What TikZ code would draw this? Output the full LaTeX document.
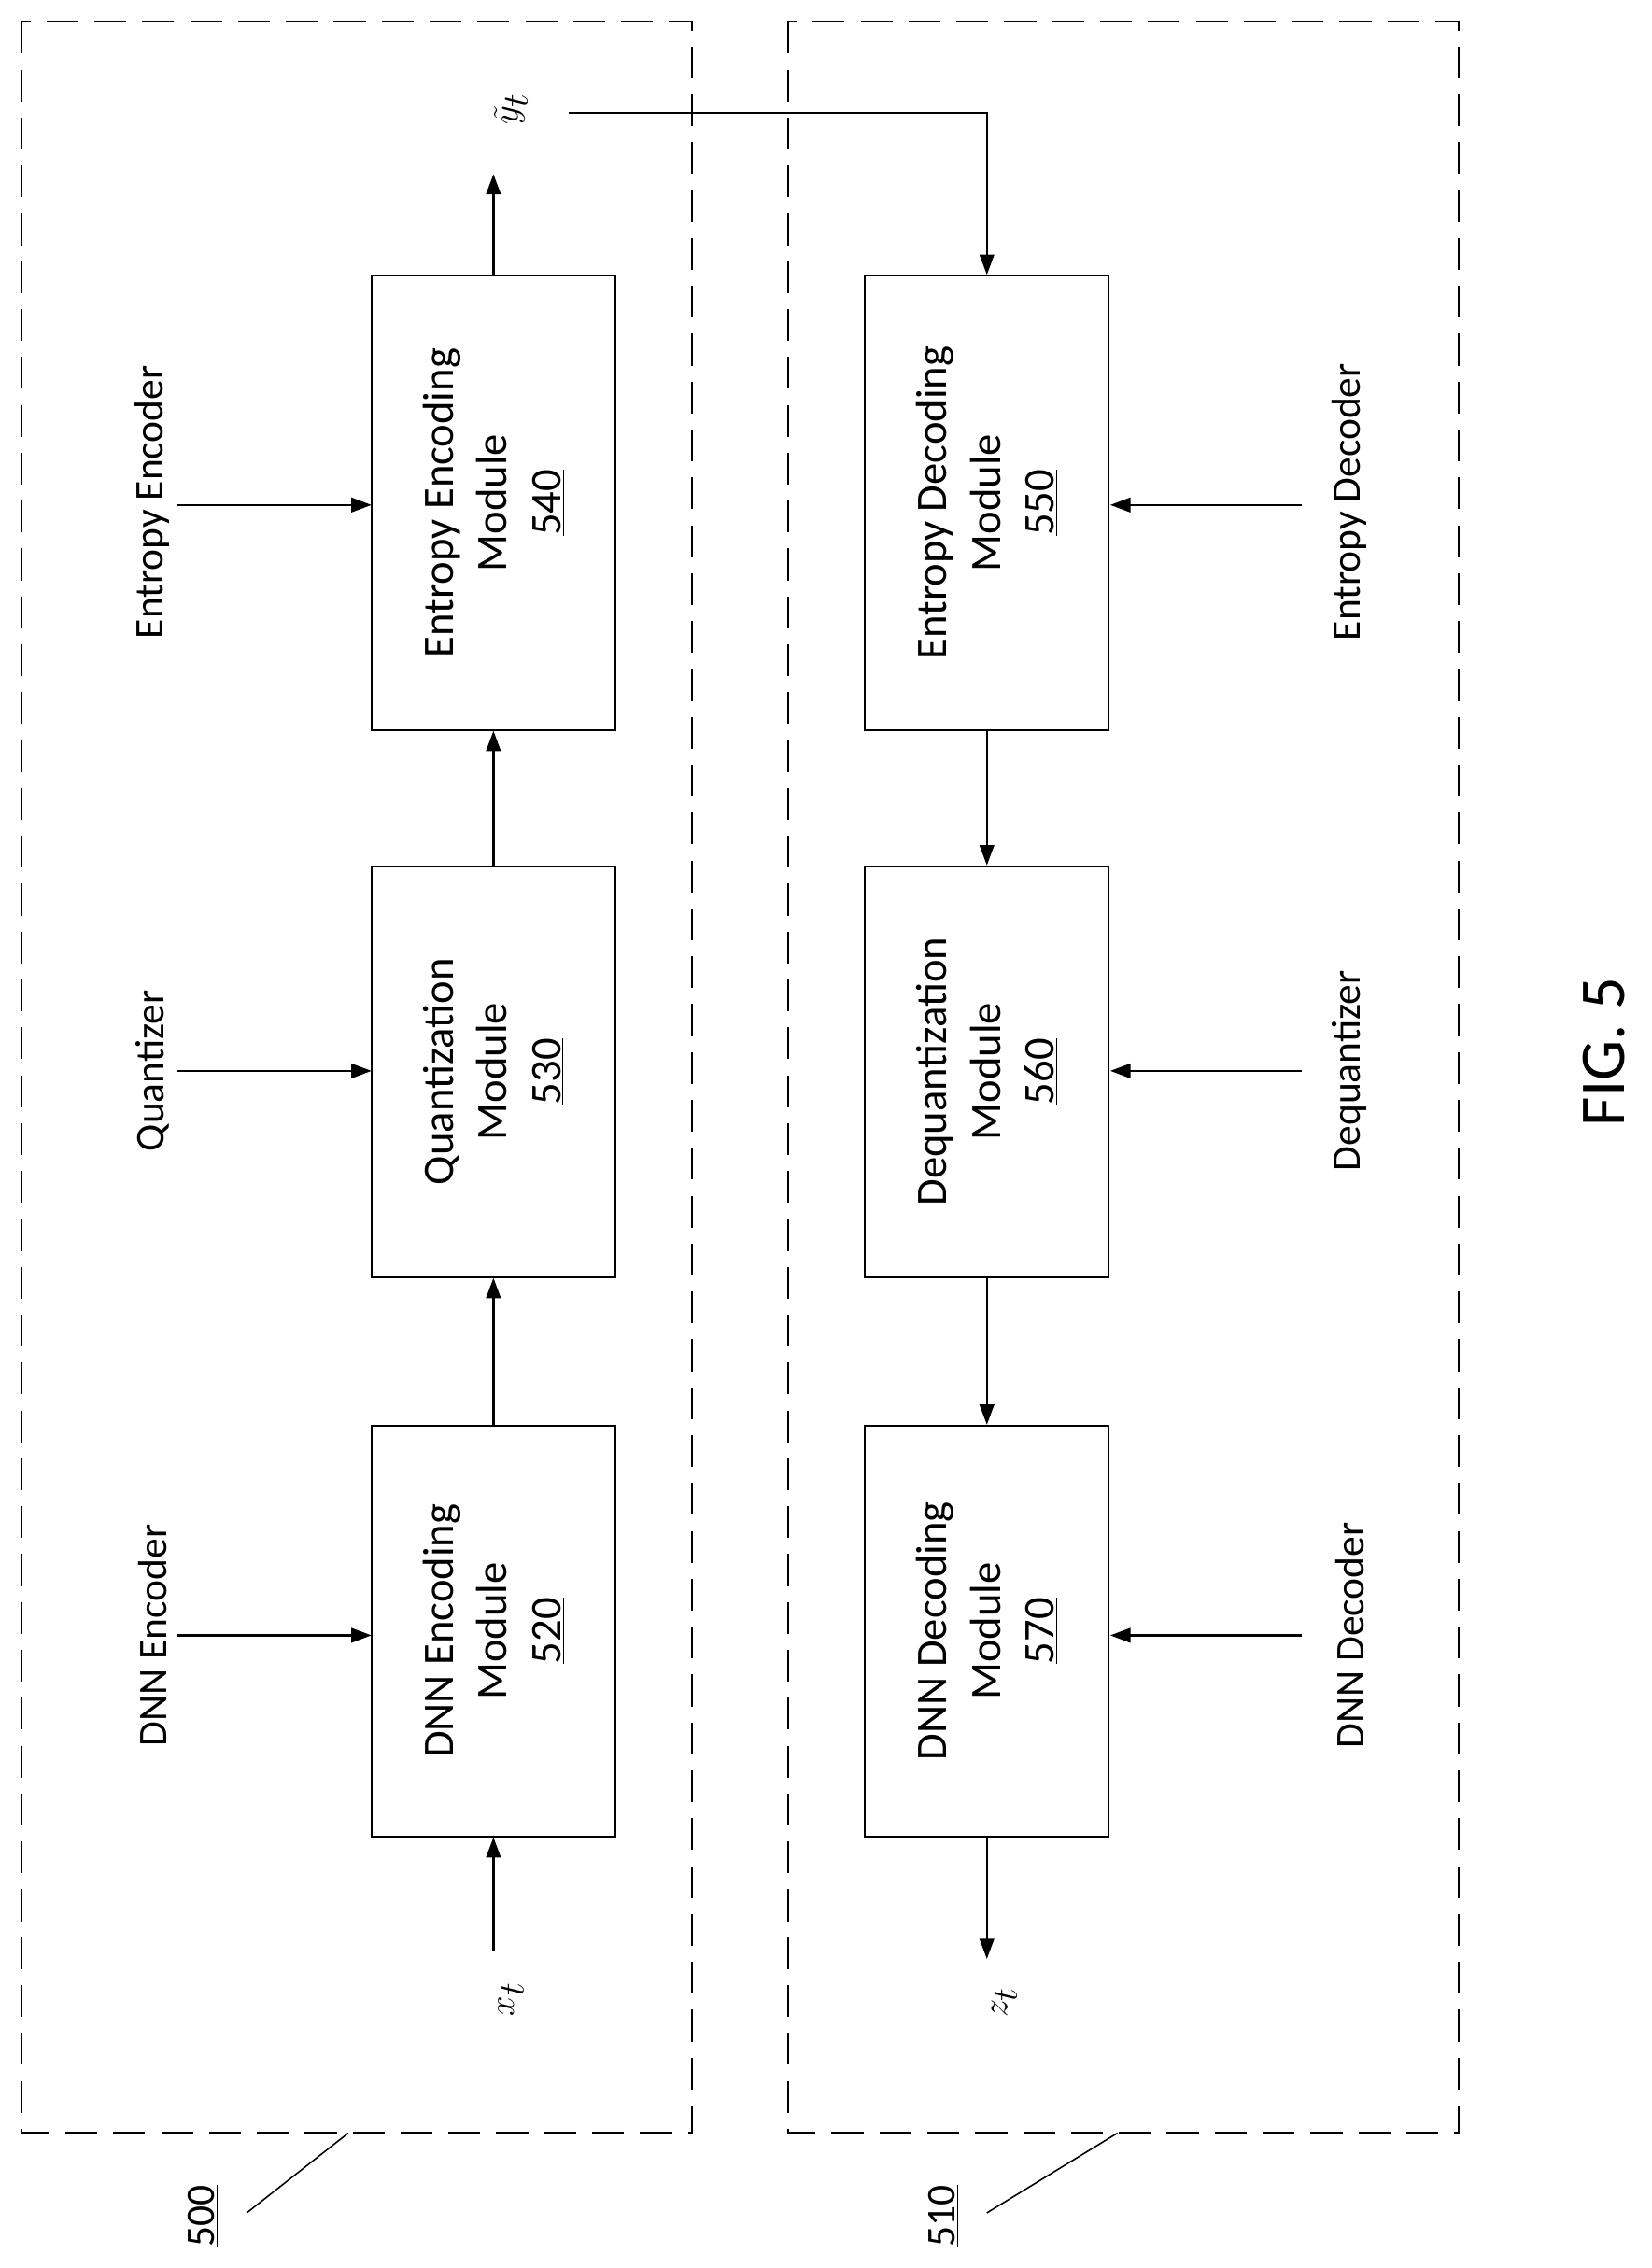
\documentclass[tikz,border=0pt]{standalone}
\usepackage{fontspec}
\setmainfont{Carlito}
\usetikzlibrary{arrows.meta}
\begin{document}
\begin{tikzpicture}[x=1pt,y=-1pt,
  box/.style={draw,line width=1.3pt,minimum width=283pt,minimum height=168pt,rotate=90,align=center,font=\fontsize{30}{37}\selectfont},
  lbl/.style={rotate=90,font=\fontsize{28}{34}\selectfont},
  dashbox/.style={draw,line width=1.3pt,dash pattern=on 22pt off 11pt},
  arr/.style={line width=1.6pt,-{Triangle[length=14pt,width=10pt]}},
  ln/.style={line width=1pt}]
\useasboundingbox (0,0) rectangle (1138,1563);
\draw[dashbox] (15,15) rectangle (477,1470);
\draw[dashbox] (543,15) rectangle (1005,1470);
\node[box,minimum width=313pt] (b540) at (340,346.5) {Entropy Encoding\\Module\\\underline{540}};
\node[box] (b530) at (340,738.5) {Quantization\\Module\\\underline{530}};
\node[box] (b520) at (340,1124) {DNN Encoding\\Module\\\underline{520}};
\node[box,minimum width=313pt] (b550) at (680,346.5) {Entropy Decoding\\Module\\\underline{550}};
\node[box] (b560) at (680,738.5) {Dequantization\\Module\\\underline{560}};
\node[box] (b570) at (680,1124) {DNN Decoding\\Module\\\underline{570}};
\node[lbl] (lee) at (105,346) {Entropy Encoder};
\node[lbl] (lq) at (105,738) {Quantizer};
\node[lbl] (lde) at (105,1127) {DNN Encoder};
\node[lbl] (led) at (930,346) {Entropy Decoder};
\node[lbl] (ldq) at (930,738) {Dequantizer};
\node[lbl] (ldd) at (930,1127) {DNN Decoder};
\node[rotate=90,font=\fontsize{34}{40}\selectfont] (x) at (352,1378) {$x_t$};
\node[rotate=90,font=\fontsize{34}{40}\selectfont] (y) at (352,75) {$\tilde{y}_t$};
\node[rotate=90,font=\fontsize{34}{40}\selectfont] (z) at (692,1380) {$z_t$};
\node[rotate=90,font=\fontsize{44}{50}\selectfont] (fig) at (1105,725) {FIG. 5};
\node[rotate=90,font=\fontsize{28}{34}\selectfont] (n500) at (140,1527) {\underline{500}};
\node[rotate=90,font=\fontsize{28}{34}\selectfont] (n510) at (650,1527) {\underline{510}};
\coordinate (xs) at (340,1345);
\coordinate (yt) at (340,120);
\coordinate (ys) at (392,78);
\coordinate (yc) at (680,78);
\coordinate (ze) at (680,1350);
\draw[arr] (xs) -- (b520.west);
\draw[arr] (b520.east) -- (b530.west);
\draw[arr] (b530.east) -- (b540.west);
\draw[arr] (b540.east) -- (yt);
\draw[arr] (ys) -- (yc) -- (b550.east);
\draw[arr] (b550.west) -- (b560.east);
\draw[arr] (b560.west) -- (b570.east);
\draw[arr] (b570.west) -- (ze);
\draw[arr] (122,348) -- (256,348);
\draw[arr] (122,738) -- (256,738);
\draw[arr] (122,1127) -- (256,1127);
\draw[arr] (897,348) -- (765,348);
\draw[arr] (897,738) -- (765,738);
\draw[arr] (897,1127) -- (765,1127);
\draw[ln] (170,1525) -- (240,1470);
\draw[ln] (680,1525) -- (770,1470);
\end{tikzpicture}
\end{document}
